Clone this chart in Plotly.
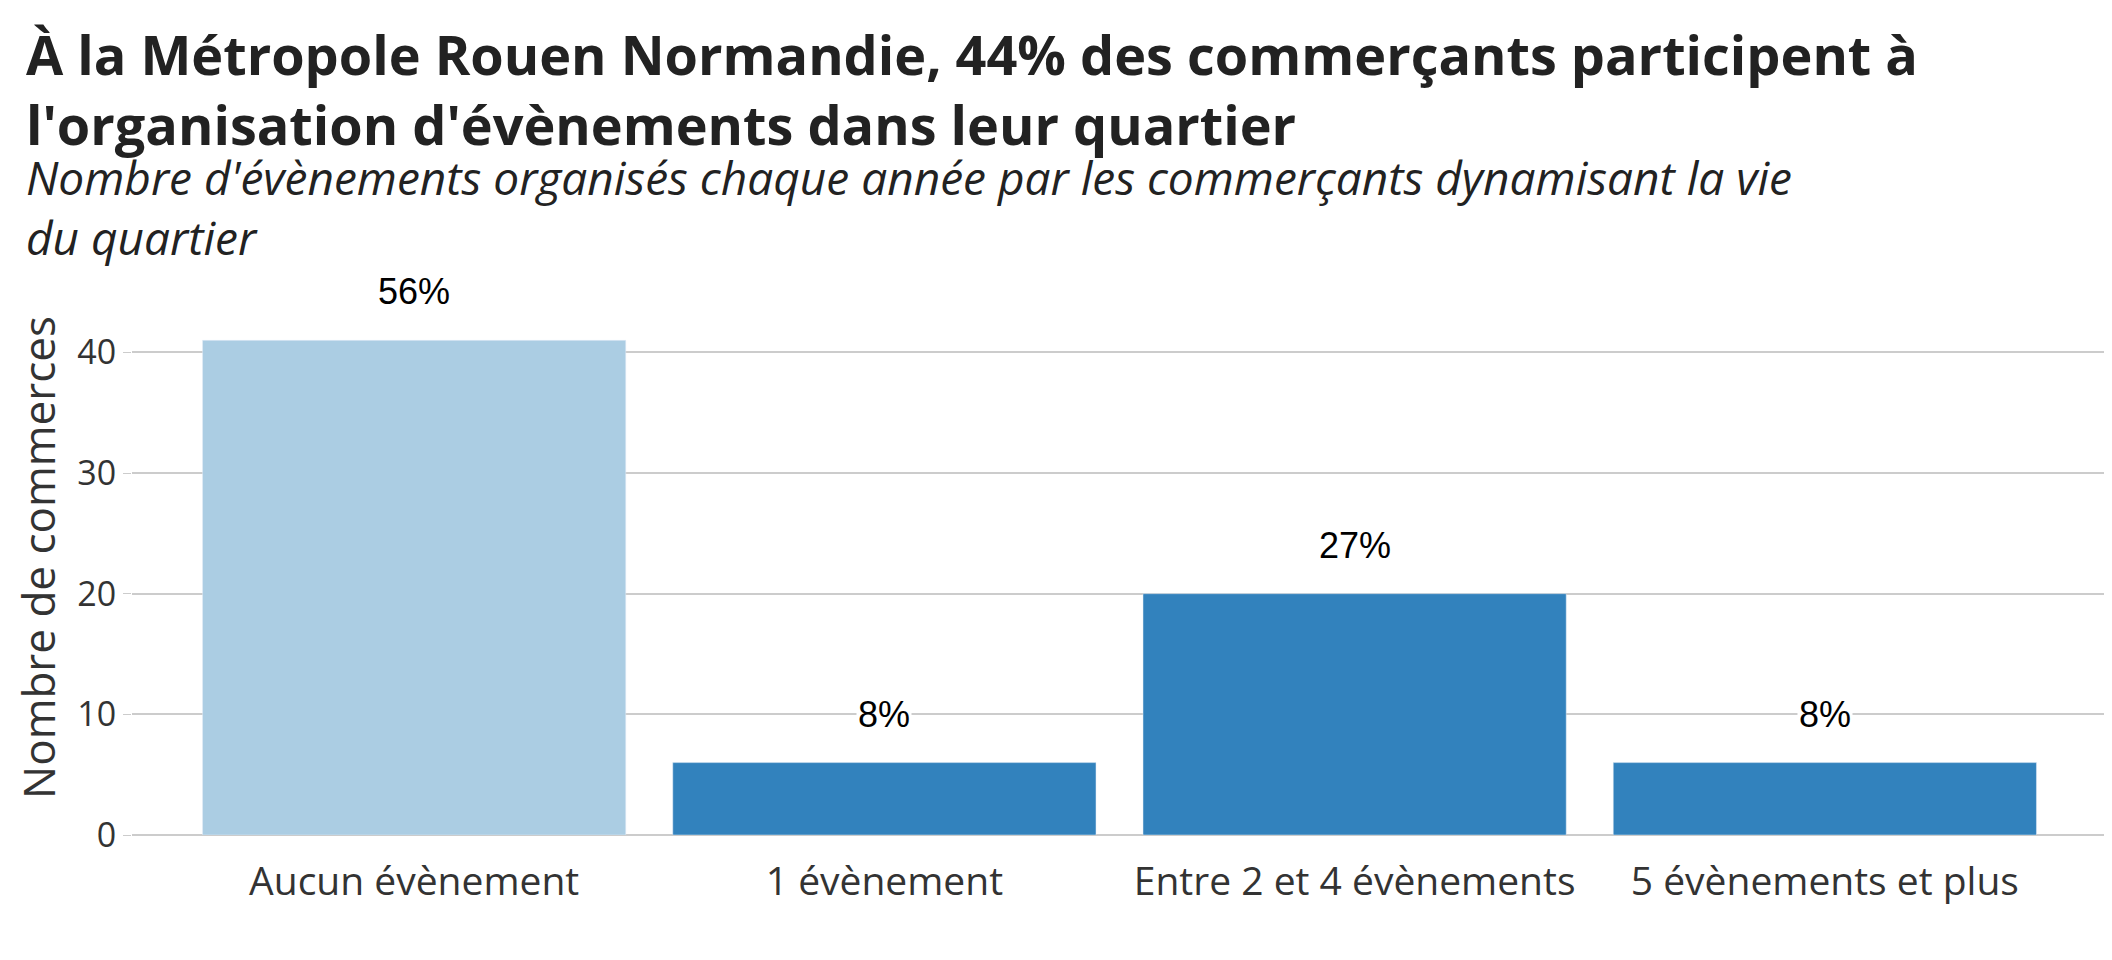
import plotly.graph_objects as go

categories = ["Aucun évènement", "1 évènement", "Entre 2 et 4 évènements", "5 évènements et plus"]
counts = [41, 6, 20, 6]
pct_labels = ["56%", "8%", "27%", "8%"]
colors = ["#abcde3", "#3282bd", "#3282bd", "#3282bd"]

fig = go.Figure(go.Bar(x=[0, 1, 2, 3], y=counts, marker_color=colors, width=0.9, hoverinfo="skip"))

for i, (v, t) in enumerate(zip(counts, pct_labels)):
    fig.add_annotation(x=i, y=v, text=t, showarrow=False, yanchor="bottom", yshift=26,
                       bgcolor="white", font=dict(family="Liberation Sans, Arial", size=36, color="black"))

fig.add_annotation(xref="paper", yref="paper", x=-0.0547, y=1.478, xanchor="left", yanchor="top",
                   align="left", showarrow=False,
                   text="<b>À la Métropole Rouen Normandie, 44% des commerçants participent à<br>l'organisation d'évènements dans leur quartier</b>",
                   font=dict(family="Open Sans", size=54, color="#222222"))
fig.add_annotation(xref="paper", yref="paper", x=-0.0547, y=1.245, xanchor="left", yanchor="top",
                   align="left", showarrow=False,
                   text="<i>Nombre d'évènements organisés chaque année par les commerçants dynamisant la vie<br>du quartier</i>",
                   font=dict(family="Open Sans", size=46, color="#222222"))

fig.update_layout(
    width=2112, height=960, plot_bgcolor="white", paper_bgcolor="white",
    margin=dict(l=124, r=13, t=272, b=133),
    showlegend=False,
    font=dict(family="Open Sans", color="#333333"),
)
fig.update_yaxes(range=[0, 46], tickvals=[0, 10, 20, 30, 40], gridcolor="#cccccc", gridwidth=2,
                 zeroline=True, zerolinecolor="#cccccc", zerolinewidth=2,
                 tickfont=dict(size=34, color="#333333"), ticks="outside", ticklen=8, tickcolor="#cccccc",
                 title=dict(text="Nombre de commerces", font=dict(size=44, color="#333333"), standoff=12))
fig.update_xaxes(range=[-0.6, 3.6], tickvals=[0, 1, 2, 3], ticktext=categories,
                 tickfont=dict(size=39, color="#333333"), ticks="outside", ticklen=12, tickcolor="white")

fig.write_html("out.html")
